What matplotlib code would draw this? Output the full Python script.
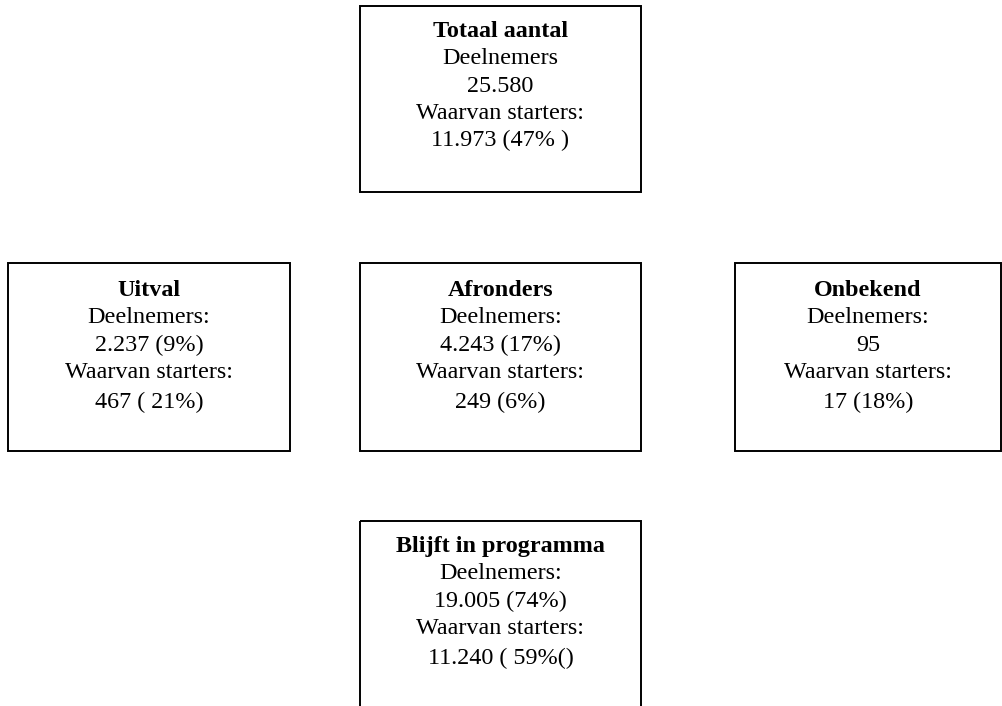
import matplotlib
matplotlib.use("Agg")
import matplotlib.pyplot as plt
from matplotlib.patches import Rectangle

# data
titles = ["Totaal aantal", "Uitval", "Afronders", "Onbekend", "Blijft in programma"]
deel_labels = ["Deelnemers", "Deelnemers:", "Deelnemers:", "Deelnemers:", "Deelnemers:"]
deel_values = ["25.580", "2.237 (9%)", "4.243 (17%)", "95", "19.005 (74%)"]
starter_values = ["11.973 (47% )", "467 ( 21%)", "249 (6%)", "17 (18%)", "11.240 ( 59%()"]

# box layout in pixels (x0, y0, x1, y1), first baseline offset
boxes = [(360, 6, 641, 192), (8, 263, 290, 451), (360, 263, 641, 451),
         (735, 263, 1001, 451), (360, 521, 641, 720)]
first_off = [31, 33, 33, 33, 31]

plt.rcParams["font.family"] = ["Liberation Serif", "DejaVu Serif"]
fig = plt.figure(figsize=(10.03, 7.06), dpi=100)
ax = fig.add_axes([0, 0, 1, 1])
ax.set_xlim(0, 1003); ax.set_ylim(706, 0); ax.axis("off")

fs = 17.4
for i, (x0, y0, x1, y1) in enumerate(boxes):
    ax.add_patch(Rectangle((x0, y0), x1 - x0, y1 - y0, fill=False, ec="black", lw=1.4))
    cx = (x0 + x1) / 2
    lines = [titles[i], deel_labels[i], deel_values[i], "Waarvan starters:", starter_values[i]]
    for j, t in enumerate(lines):
        y = y0 + first_off[i] + 27.3 * j + (3 if (j == 4 and i > 0) else 0)
        ax.text(cx, y, t, ha="center", va="baseline", fontsize=fs,
                fontweight="bold" if j == 0 else "normal")

fig.savefig("out.png", dpi=100); plt.close(fig)
print("out.png")
